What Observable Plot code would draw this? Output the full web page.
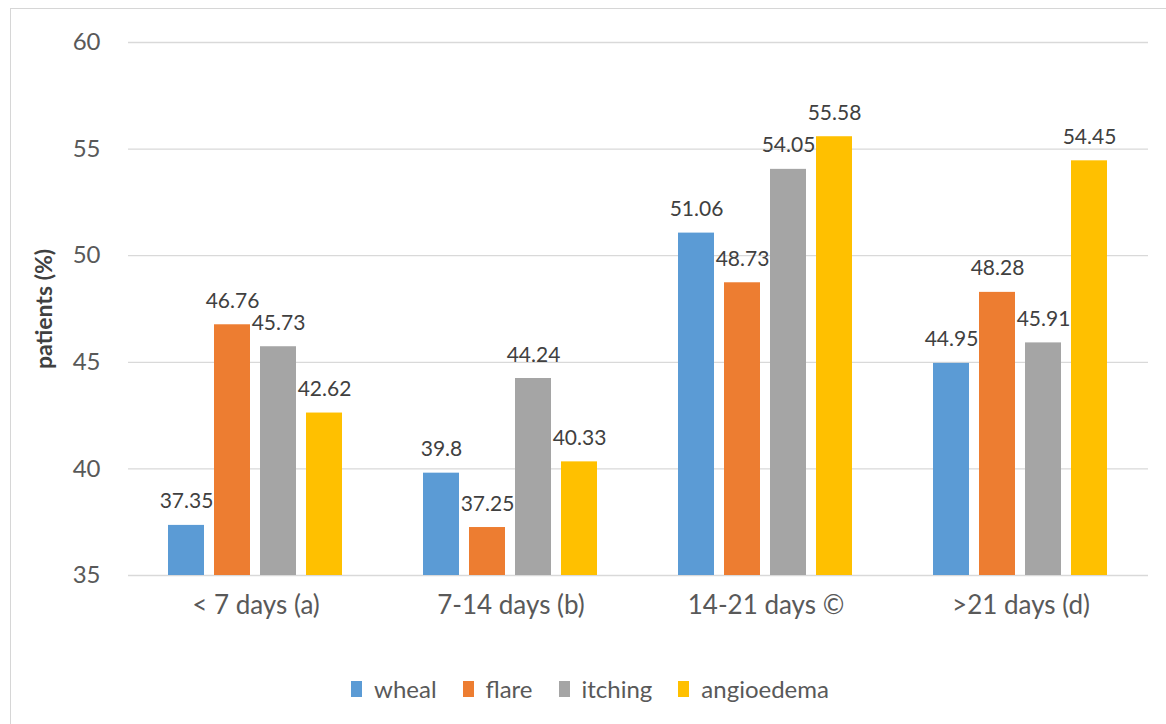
<!DOCTYPE html>
<html>
<head>
<meta charset="utf-8">
<script src="https://cdn.jsdelivr.net/npm/d3@7"></script>
<script src="https://cdn.jsdelivr.net/npm/@observablehq/plot@0.6"></script>
<style>
  html, body { margin: 0; padding: 0; background: #fff; }
  #wrap { position: relative; width: 1166px; height: 724px; overflow: hidden; font-family: Lato, "Open Sans", sans-serif; }
  #frame { position: absolute; left: 10px; top: 8px; width: 1200px; height: 800px; border-left: 1px solid #d6d6d6; border-top: 1px solid #d6d6d6; }
  #chart { position: absolute; left: 0; top: 0; }
  #legend { position: absolute; left: 0; top: 672px; width: 1166px; display: flex; justify-content: center; padding-left: 38px; box-sizing: border-box; }
</style>
</head>
<body>
<div id="wrap">
  <div id="frame"></div>
  <div id="chart"></div>
  <div id="legend"></div>
</div>
<script>
const periods = ["< 7 days (a)", "7-14 days (b)", "14-21 days ©", ">21 days (d)"];
const symptoms = ["wheal", "flare", "itching", "angioedema"];
const wheal = [37.35, 39.8, 51.06, 44.95];
const flare = [46.76, 37.25, 48.73, 48.28];
const itching = [45.73, 44.24, 54.05, 45.91];
const angioedema = [42.62, 40.33, 55.58, 54.45];
const yTicks = [35, 40, 45, 50, 55, 60];
const colors = ["#5B9BD5", "#ED7D31", "#A5A5A5", "#FFC000"];
const yLabel = "patients (%)";

const series = [wheal, flare, itching, angioedema];
const data = [];
periods.forEach((p, i) => {
  symptoms.forEach((s, j) => data.push({period: p, symptom: s, value: series[j][i]}));
});

const font = "Lato, 'Open Sans', sans-serif";

const chart = Plot.plot({
  width: 1166,
  height: 640,
  marginLeft: 128,
  marginRight: 18,
  marginTop: 42,
  marginBottom: 65,
  style: {fontFamily: font, background: "transparent", overflow: "visible"},
  fx: {domain: periods, padding: 0, label: null, axis: null},
  x: {domain: symptoms, paddingInner: 0.217, paddingOuter: 0.88, axis: null},
  y: {domain: [35, 60], label: null},
  color: {domain: symptoms, range: colors},
  marks: [
    Plot.gridY(yTicks, {stroke: "#d9d9d9", strokeOpacity: 1, strokeWidth: 1.3}),
    Plot.axisY(yTicks, {tickSize: 0, tickPadding: 28, fontSize: 24, fill: "#595959", label: null}),
    Plot.axisFx({anchor: "bottom", tickSize: 0, tickPadding: 20, fontSize: 26, fill: "#595959", label: null}),
    Plot.barY(data, {fx: "period", x: "symptom", y: "value", fill: "symptom", clip: true}),
    Plot.text(data, {fx: "period", x: "symptom", y: "value", text: d => String(d.value), lineAnchor: "bottom", dy: -17, fontSize: 21, fill: "#404040"}),
    Plot.text([yLabel], {frameAnchor: "left", textAnchor: "middle", rotate: -90, dx: -84, fontSize: 23, fontWeight: "bold", fill: "#404040", facet: "super"})
  ]
});
document.getElementById("chart").appendChild(chart);

const legend = Plot.legend({
  color: {domain: symptoms, range: colors},
  legend: "swatches",
  swatchWidth: 11,
  swatchHeight: 16,
  style: {fontFamily: font, fontSize: "24px", color: "#595959", gap: "2px", columnGap: "2px"}
});
document.getElementById("legend").appendChild(legend);
</script>
</body>
</html>
